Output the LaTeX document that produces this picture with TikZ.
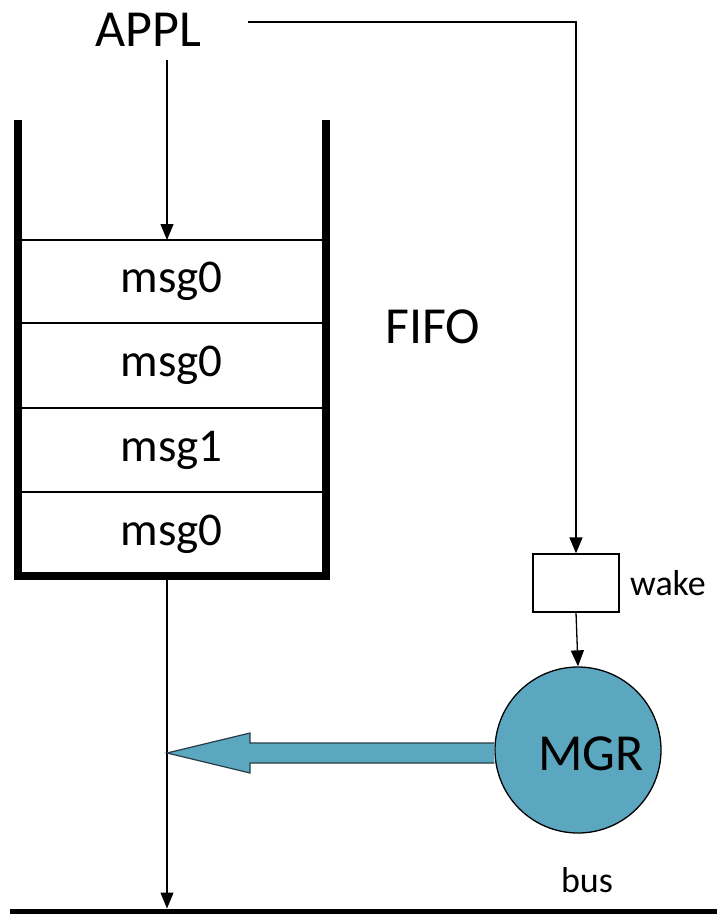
\documentclass[tikz,border=0pt]{standalone}
\usepackage{fontspec}
\setmainfont{Carlito}
\usetikzlibrary{arrows.meta}
\definecolor{mgrfill}{RGB}{91,167,192}
\definecolor{mgrline}{RGB}{40,60,70}
\begin{document}
\begin{tikzpicture}[x=1pt,y=-1pt,
  thin line/.style={line width=1.3pt,black},
  arr/.style={thin line,-{Triangle[length=16pt,width=13pt]}},
  big/.style={font=\fontsize{52}{60}\selectfont},
  mid/.style={font=\fontsize{47}{54}\selectfont},
  small/.style={font=\fontsize{36}{40}\selectfont},
  cell/.style={draw,thin line,minimum width=308.5pt,inner sep=0pt,outer sep=0pt,mid},
  wall/.style={line width=8pt,black,line join=miter}]
\useasboundingbox (0,0) rectangle (717,914);

% texts
\node[big,inner sep=0pt] (appl) at (148,30) {APPL};
\node[big,inner sep=0pt] (fifo) at (433,327) {FIFO};

% FIFO cells
\node[cell,minimum height=83pt] (c1) at (171.75,281.5) {msg0};
\node[cell,minimum height=85pt,anchor=north] (c2) at (c1.south) {msg0};
\node[cell,minimum height=84pt,anchor=north] (c3) at (c2.south) {msg1};
\node[cell,minimum height=84pt,anchor=north] (c4) at (c3.south) {msg0};

% walls
\coordinate (wtl) at (17.5,120);
\coordinate (wtr) at (326,120);
\draw[wall] (wtl) -- (wtl |- c4.south) -- (wtr |- c4.south) -- (wtr);

% wake box
\node[draw,thin line,minimum width=86pt,minimum height=58pt,inner sep=0pt] (wake) at (576,583) {};
\node[small,inner sep=0pt] (wakel) at (668,583) {wake};

% MGR
\node[circle,draw,thin line,fill=mgrfill,minimum size=166pt,inner sep=0pt] (mgr) at (578,750) {};
\node[big,inner sep=0pt] (mgrt) at (591,754) {MGR};

% bus
\coordinate (busL) at (10,911);
\coordinate (busR) at (717,911);
\draw[line width=5pt] (busL) -- (busR);
\node[small,inner sep=0pt] (busl) at (587,880) {bus};

% APPL arrows
\coordinate (in) at (167,60);
\draw[arr] (in) -- (in |- c1.north);
\coordinate (a1) at (248,22);
\draw[arr] (a1) -| (wake.north);
\draw[arr] (wake.south) -- (mgr.north);

% FIFO output to bus
\coordinate (out) at (167,580);
\coordinate (busin) at (167,908.5);
\draw[arr] (out) -- (busin);

% big arrow from MGR
\coordinate (tip) at (167,753);
\draw[line width=1.2pt,draw=mgrline,fill=mgrfill,line join=miter]
  (mgr.west |- 0,743) -- (250,743) -- (250,733) -- (tip) -- (250,773) -- (250,763) -- (mgr.west |- 0,763);
\end{tikzpicture}
\end{document}
